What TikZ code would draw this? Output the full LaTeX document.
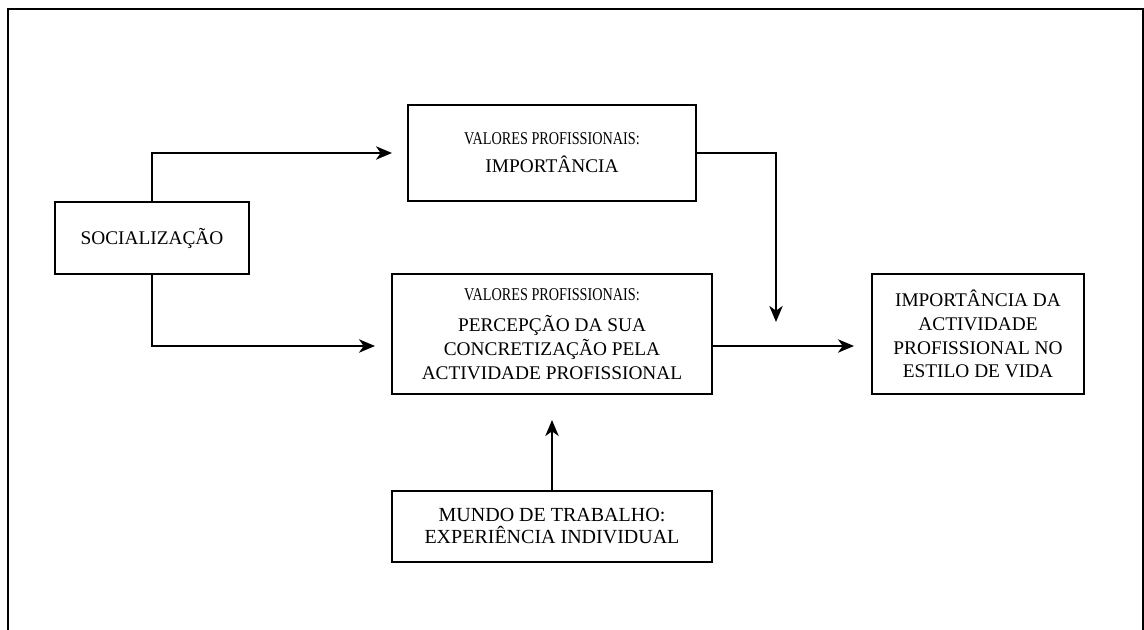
\documentclass[tikz,border=0pt]{standalone}
\usepackage{fontspec}
\setmainfont{Liberation Serif}
\newfontfamily\condfont[FakeStretch=0.79]{Liberation Serif}
\usetikzlibrary{arrows.meta}
\begin{document}
\begin{tikzpicture}[x=0.75pt,y=-0.75pt,
  box/.style={draw, line width=1.5pt, inner sep=0pt, align=center,
    font=\fontsize{14.5}{17.8}\selectfont},
  cond/.style={},
  arr/.style={line width=1.5pt, -{Stealth[length=12pt,width=10pt,inset=3.5pt]}},
  frame/.style={line width=1.5pt}
]
\useasboundingbox (0,0) rectangle (1144,630);
\draw[frame] (8,645) -- (8,9) -- (1143,9) -- (1143,645);

\node[box, minimum width=145.5pt, minimum height=54pt] (soc) at (152,238) {SOCIALIZAÇÃO};
\node[box, minimum width=216pt, minimum height=72pt] (vpi) at (552,153)
  {{\condfont\fontsize{13.5}{15}\selectfont VALORES PROFISSIONAIS:}\\[3pt]IMPORTÂNCIA};
\node[box, minimum width=240pt, minimum height=90pt] (vpp) at (552,334)
  {{\condfont\fontsize{13.5}{15}\selectfont VALORES PROFISSIONAIS:}\\[6pt]PERCEPÇÃO DA SUA\\CONCRETIZAÇÃO PELA\\ACTIVIDADE PROFISSIONAL};
\node[box, minimum width=159pt, minimum height=90pt] (imp) at (978,334)
  {IMPORTÂNCIA DA\\ACTIVIDADE\\PROFISSIONAL NO\\ESTILO DE VIDA};
\node[box, minimum width=240pt, minimum height=53.25pt,
  font=\fontsize{15}{16.5}\selectfont] (mun) at (552,526.5)
  {MUNDO DE TRABALHO:\\EXPERIÊNCIA INDIVIDUAL};

\coordinate (drop) at (776,322);

\draw[arr, shorten >=11.25pt] (soc.north) |- (vpi.west);
\draw[arr, shorten >=12pt] (soc.south) |- ([yshift=-9pt]vpp.west);
\draw[arr, shorten >=12.75pt] ([yshift=-9pt]vpp.east) -- ([yshift=-9pt]imp.west);
\draw[arr] (vpi.east) -| (drop);
\draw[arr, shorten >=18.75pt] (mun.north) -- (vpp.south);
\end{tikzpicture}
\end{document}
